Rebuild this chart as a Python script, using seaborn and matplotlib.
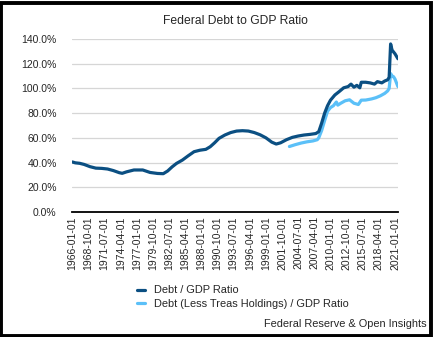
import matplotlib
matplotlib.use("Agg")
import matplotlib.pyplot as plt
from matplotlib.patches import Rectangle
from matplotlib.ticker import FuncFormatter
import seaborn as sns
import pandas as pd

# ---- data ----
debt_dates = [
    "1966-01-01", "1966-07-01", "1967-04-01", "1968-01-01", "1969-01-01", "1970-01-01",
    "1971-01-01", "1972-01-01", "1973-01-01", "1974-01-01", "1974-07-01", "1975-04-01",
    "1976-07-01", "1978-01-01", "1979-04-01", "1980-07-01", "1981-07-01", "1982-04-01",
    "1983-01-01", "1983-10-01", "1984-10-01", "1985-10-01", "1986-10-01", "1987-10-01",
    "1988-10-01", "1989-07-01", "1990-04-01", "1991-01-01", "1992-01-01", "1993-01-01",
    "1994-01-01", "1995-01-01", "1996-01-01", "1997-01-01", "1998-01-01", "1999-01-01",
    "2000-01-01", "2000-10-01", "2001-07-01", "2002-07-01", "2003-07-01", "2004-07-01",
    "2005-07-01", "2006-07-01", "2007-07-01", "2008-01-01", "2008-07-01", "2009-01-01",
    "2009-07-01", "2010-01-01", "2010-10-01", "2011-07-01", "2012-04-01", "2013-01-01",
    "2013-07-01", "2014-01-01", "2014-07-01", "2015-01-01", "2015-04-01", "2016-01-01",
    "2016-10-01", "2017-07-01", "2018-01-01", "2018-10-01", "2019-04-01", "2019-10-01",
    "2020-01-01", "2020-04-01", "2020-07-01", "2020-10-01", "2021-01-01", "2021-04-01",
    "2021-07-01",
]
debt_ratio = [
    40.5, 39.8, 39.4, 38.5, 36.7, 35.5,
    35.3, 34.8, 33.5, 31.8, 31.3, 32.5,
    34.0, 34.0, 32.0, 31.2, 31.0, 33.2,
    36.5, 39.3, 42.0, 45.5, 48.8, 50.0,
    50.7, 52.8, 56.0, 59.6, 62.3, 64.3,
    65.5, 65.8, 65.5, 64.3, 62.5, 60.0,
    56.5, 55.0, 56.0, 58.5, 60.4, 61.5,
    62.3, 62.8, 63.5, 65.0, 72.0, 80.0,
    86.0, 90.5, 94.7, 97.5, 100.5, 101.5,
    103.5, 101.0, 102.5, 100.5, 105.0, 105.0,
    104.5, 103.5, 105.5, 104.5, 106.0, 107.0,
    109.0, 136.0, 131.0, 129.5, 128.0, 126.0,
    124.0,
]

less_dates = [
    "2003-01-01", "2004-01-01", "2005-01-01", "2006-01-01", "2007-01-01", "2007-10-01",
    "2008-01-01", "2008-07-01", "2009-01-01", "2009-07-01", "2010-01-01", "2010-07-01",
    "2011-01-01", "2011-04-01", "2011-10-01", "2012-07-01", "2013-04-01", "2014-01-01",
    "2014-10-01", "2015-04-01", "2016-01-01", "2017-01-01", "2017-10-01", "2018-07-01",
    "2019-04-01", "2019-10-01", "2020-01-01", "2020-04-01", "2020-07-01", "2020-10-01",
    "2021-01-01", "2021-04-01", "2021-07-01",
]
less_ratio = [
    53.0, 54.5, 55.8, 56.8, 57.5, 58.5,
    60.0, 66.0, 74.0, 81.5, 84.5, 86.0,
    89.0, 86.5, 88.0, 90.0, 90.8, 88.0,
    87.0, 90.5, 90.6, 91.5, 92.5, 94.0,
    96.0, 98.0, 100.0, 112.0, 110.0, 109.5,
    107.5, 104.5, 101.5,
]

series_names = ["Debt / GDP Ratio", "Debt (Less Treas Holdings) / GDP Ratio"]
tick_labels = [
    "1966-01-01", "1968-10-01", "1971-07-01", "1974-04-01", "1977-01-01", "1979-10-01",
    "1982-07-01", "1985-04-01", "1988-01-01", "1990-10-01", "1993-07-01", "1996-04-01",
    "1999-01-01", "2001-10-01", "2004-07-01", "2007-04-01", "2010-01-01", "2012-10-01",
    "2015-07-01", "2018-04-01", "2021-01-01",
]
y_ticks = [0, 20, 40, 60, 80, 100, 120, 140]

df = pd.concat([
    pd.DataFrame({"date": pd.to_datetime(debt_dates), "value": debt_ratio, "series": series_names[0]}),
    pd.DataFrame({"date": pd.to_datetime(less_dates), "value": less_ratio, "series": series_names[1]}),
])

dark = "#0B4F82"
light = "#5BC0F8"

sns.set_style("white")
plt.rcParams["font.family"] = ["Liberation Sans", "DejaVu Sans"]

fig = plt.figure(figsize=(4.35, 3.37), dpi=100)
ax = fig.add_axes([72 / 435, 1 - 212 / 337, (398 - 72) / 435, (212 - 39) / 337])

sns.lineplot(data=df, x="date", y="value", hue="series", hue_order=series_names,
             palette=[dark, light], linewidth=2.3, ax=ax, legend=False, sort=True,
             estimator=None)
# draw the dark series on top
for line, z in zip(ax.get_lines(), [3, 2]):
    line.set_zorder(z)

ax.set_ylim(0, 140)
ax.set_yticks(y_ticks)
ax.yaxis.set_major_formatter(FuncFormatter(lambda v, p: f"{v:.1f}%"))
ax.set_xlim(pd.Timestamp("1965-12-10"), pd.Timestamp("2021-07-05"))
ax.set_xticks(pd.to_datetime(tick_labels))
ax.set_xticklabels(tick_labels, rotation=90, fontsize=7.5)
ax.tick_params(axis="y", labelsize=7.5, length=0, pad=11)
ax.tick_params(axis="x", length=0, pad=3)
ax.set_xlabel("")
ax.set_ylabel("")
ax.grid(axis="y", color="#d6d6d6", linewidth=0.9)
ax.grid(axis="x", visible=False)
for s in ["top", "right", "left"]:
    ax.spines[s].set_visible(False)
ax.spines["bottom"].set_color("black")
ax.spines["bottom"].set_linewidth(1.3)
ax.set_title("Federal Debt to GDP Ratio", fontsize=8.7, pad=11)

handles = [plt.Line2D([], [], color=dark, linewidth=2.3),
           plt.Line2D([], [], color=light, linewidth=2.3)]
fig.legend(handles, series_names, loc="upper left", bbox_to_anchor=(133 / 435, 1 - 281 / 337),
           frameon=False, fontsize=7.9, handlelength=0.7, handletextpad=0.8,
           labelspacing=0.35, borderaxespad=0)

fig.text(427 / 435, 1 - 324 / 337, "Federal Reserve & Open Insights", ha="right", va="center",
         fontsize=7.9)

fig.patches.append(Rectangle((1.5 / 435, 1.5 / 337), 430 / 435, 333 / 337, transform=fig.transFigure,
                             fill=False, edgecolor="black", linewidth=2.8))

fig.savefig("out.png", dpi=100)
